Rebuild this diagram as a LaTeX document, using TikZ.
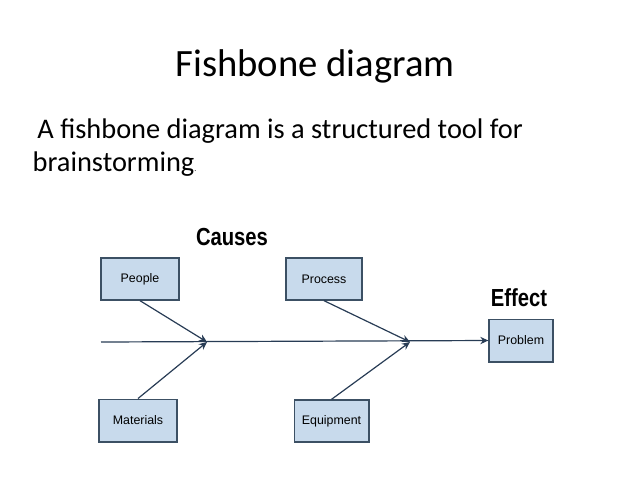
\documentclass[tikz,border=0pt]{standalone}
\usepackage{fontspec}
\setmainfont{Carlito}
\newfontfamily\arialf{Liberation Sans}
\definecolor{boxfill}{RGB}{200,218,236}
\definecolor{boxline}{RGB}{60,80,100}
\definecolor{bone}{RGB}{40,60,85}
\tikzset{
 cause/.style={draw=boxline,fill=boxfill,line width=1pt,font=\arialf\fontsize{9.3}{11}\selectfont,inner sep=0pt},
 boneline/.style={draw=bone,line width=0.9pt},
 bonearrow/.style={boneline,-{Stealth[length=6pt,width=5.5pt]}},
 head/.style={font=\arialf\bfseries\fontsize{18.5}{22}\selectfont,xscale=0.82}
}
\usetikzlibrary{arrows.meta}
\begin{document}
\begin{tikzpicture}[x=0.75pt,y=-0.75pt]
\useasboundingbox (0,0) rectangle (638,479);
\node[font=\fontsize{29}{34}\selectfont] (title) at (315,66) {Fishbone diagram};
\node[font=\fontsize{21.3}{26}\selectfont,anchor=west] (l1) at (28,131) {\,A fishbone diagram is a structured tool for};
\node[font=\fontsize{21.3}{26}\selectfont,anchor=west] (l2) at (28,164) {brainstorming{\fontsize{6}{7}\selectfont.}};
\node[head] (causes) at (232,237) {Causes};
\node[head] (effect) at (519,298) {Effect};
\node[cause,minimum width=58.5pt,minimum height=31.5pt] (people) at (140,279) {People};
\node[cause,minimum width=57pt,minimum height=31.5pt] (process) at (324,279) {Process};
\node[cause,minimum width=58.5pt,minimum height=32pt] (materials) at (138,420.5) {Materials};
\node[cause,minimum width=56pt,minimum height=31.5pt] (equipment) at (331.5,421) {Equipment};
\node[cause,minimum width=48pt,minimum height=32pt] (problem) at (521,340.5) {Problem};
\coordinate (start) at (101,342);
\coordinate (j1) at (207,342);
\coordinate (j2) at (410,342);
\draw[bonearrow] (start) -- (problem.west);
\draw[bonearrow] (people.south) -- (j1);
\draw[bonearrow] (materials.north) -- (j1);
\draw[bonearrow] (process.south) -- (j2);
\draw[bonearrow] (equipment.north) -- (j2);
\end{tikzpicture}
\end{document}
